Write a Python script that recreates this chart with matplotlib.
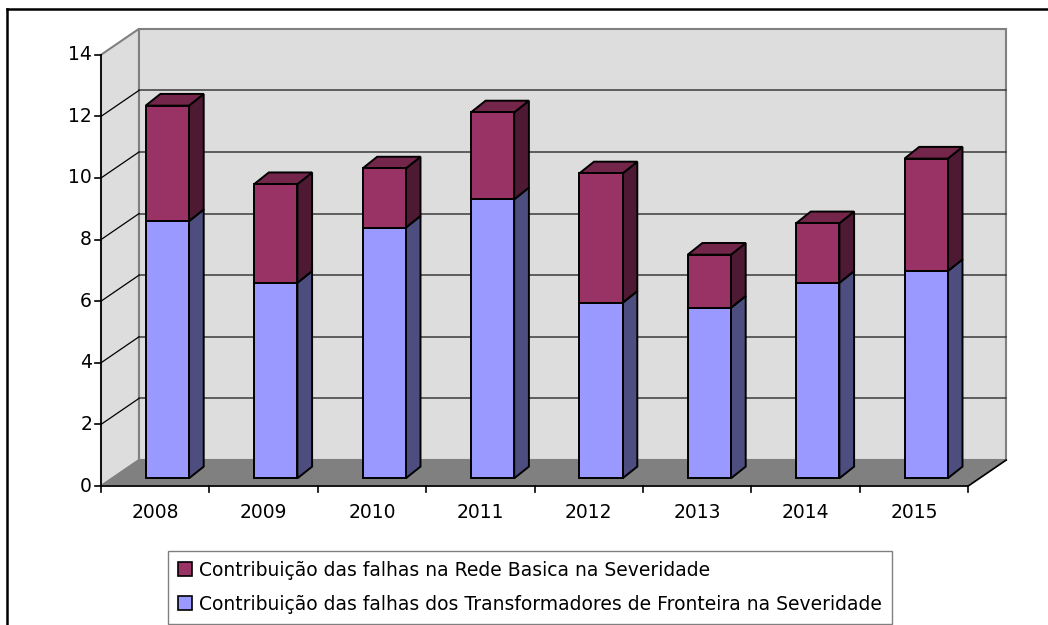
import matplotlib
matplotlib.use("Agg")
import matplotlib.pyplot as plt
from matplotlib.patches import Polygon, Patch
from matplotlib.lines import Line2D

# ---------------- data ----------------
years = ['2008', '2009', '2010', '2011', '2012', '2013', '2014', '2015']
transformadores = [8.35, 6.35, 8.14, 9.06, 5.70, 5.54, 6.35, 6.73]
rede_basica = [3.75, 3.20, 1.92, 2.82, 4.20, 1.72, 1.93, 3.65]
y_ticks = [0, 2, 4, 6, 8, 10, 12, 14]
label_rede = 'Contribuição das falhas na Rede Basica na Severidade'
label_trans = 'Contribuição das falhas dos Transformadores de Fronteira na Severidade'

# ---------------- style ----------------
W, H, DPI = 1048, 625, 100
X0_PX, Y0_PX = 101, 486          # front origin in pixels
SLOT_PX, UNIT_PX = 108.4, 30.8   # pixels per category / per value unit
FONT = 'DejaVu Sans'
FS = 13.5

purple = {'front': '#993366', 'side': '#4D1933', 'top': '#732649'}
blue = {'front': '#9999FF', 'side': '#4D4D80', 'top': '#7373BF'}

# depth of the walls, in data units
DX, DY = 38 / SLOT_PX, 26 / UNIT_PX
# bar geometry (fractions of a slot / value units)
BAR_X0 = 44.7 / SLOT_PX
BAR_W = 43.3 / SLOT_PX
BAR_Y0 = 7.7 / UNIT_PX
BAR_DX, BAR_DY = 14.7 / SLOT_PX, 11.7 / UNIT_PX

fig = plt.figure(figsize=(W / DPI, H / DPI), dpi=DPI)
ax = fig.add_axes([0, 0, 1, 1])
ax.set_xlim(-X0_PX / SLOT_PX, (W - X0_PX) / SLOT_PX)
ax.set_ylim((Y0_PX - H) / UNIT_PX, Y0_PX / UNIT_PX)
ax.axis('off')

n = len(years)
ymax = y_ticks[-1]

# walls & floor
wall_c, edge_c = '#DDDDDD', '#808080'
ax.add_patch(Polygon([(0, 0), (0, ymax), (DX, ymax + DY), (DX, DY)],
                     closed=True, fc=wall_c, ec=edge_c, lw=1.5, zorder=1))
ax.add_patch(Polygon([(DX, DY), (n + DX, DY), (n + DX, ymax + DY), (DX, ymax + DY)],
                     closed=True, fc=wall_c, ec=edge_c, lw=1.5, zorder=1))
ax.add_patch(Polygon([(0, 0), (n, 0), (n + DX, DY), (DX, DY)],
                     closed=True, fc='#808080', ec='#808080', lw=1, zorder=1))

# gridlines
for v in y_ticks[1:-1]:
    ax.plot([DX, n + DX], [v + DY, v + DY], color='#3A3A3A', lw=1.1, zorder=2)
    ax.plot([0, DX], [v, v + DY], color='#000000', lw=0.9, zorder=2)


def draw_box(x0, y0, h, cols):
    x1 = x0 + BAR_W
    y1 = y0 + h
    front = [(x0, y0), (x1, y0), (x1, y1), (x0, y1)]
    side = [(x1, y0), (x1 + BAR_DX, y0 + BAR_DY), (x1 + BAR_DX, y1 + BAR_DY), (x1, y1)]
    top = [(x0, y1), (x1, y1), (x1 + BAR_DX, y1 + BAR_DY), (x0 + BAR_DX, y1 + BAR_DY)]
    for pts, key in ((side, 'side'), (top, 'top'), (front, 'front')):
        ax.add_patch(Polygon(pts, closed=True, fc=cols[key], ec='black',
                             lw=1.4, joinstyle='miter', zorder=3))


for i in range(n):
    x0 = i + BAR_X0
    draw_box(x0, BAR_Y0, transformadores[i], blue)
    draw_box(x0, BAR_Y0 + transformadores[i], rede_basica[i], purple)

# axes lines & ticks
tick_x = 6 / SLOT_PX
tick_y = 6 / UNIT_PX
ax.plot([0, 0], [0, ymax], color='black', lw=1.2, zorder=4)
for v in y_ticks:
    ax.plot([-tick_x, 0], [v, v], color='black', lw=1.2, zorder=4)
    ax.text(-9 / SLOT_PX, v, str(v), ha='right', va='center',
            fontsize=FS, family=FONT, color='black')
ax.plot([0, n, n + DX], [0, 0, DY], color='black', lw=1.2, zorder=4)
for i in range(n + 1):
    ax.plot([i, i], [0, -tick_y], color='black', lw=1.2, zorder=4)
for i, y in enumerate(years):
    ax.text(i + 0.5, -26 / UNIT_PX, y, ha='center', va='center',
            fontsize=FS, family=FONT, color='black')

# legend
handles = [Patch(fc=purple['front'], ec='black', lw=1.2, label=label_rede),
           Patch(fc=blue['front'], ec='black', lw=1.2, label=label_trans)]
leg = fig.legend(handles=handles, loc='upper left',
                 bbox_to_anchor=(168 / W, 1 - 551 / H),
                 prop={'family': FONT, 'size': FS}, frameon=True,
                 fancybox=False, edgecolor='#808080', framealpha=1,
                 handlelength=0.75, handleheight=0.75, handletextpad=0.4,
                 labelspacing=0.8, borderpad=0.52, borderaxespad=0)
leg.get_frame().set_linewidth(1.0)

# outer chart border (extends off the image right & bottom)
fig.add_artist(Line2D([7 / W, 1.01], [1 - 9 / H, 1 - 9 / H], transform=fig.transFigure,
                      color='black', lw=1.8))
fig.add_artist(Line2D([7 / W, 7 / W], [1 - 9 / H, -0.01], transform=fig.transFigure,
                      color='black', lw=1.8))

fig.savefig('out.png', dpi=DPI)
